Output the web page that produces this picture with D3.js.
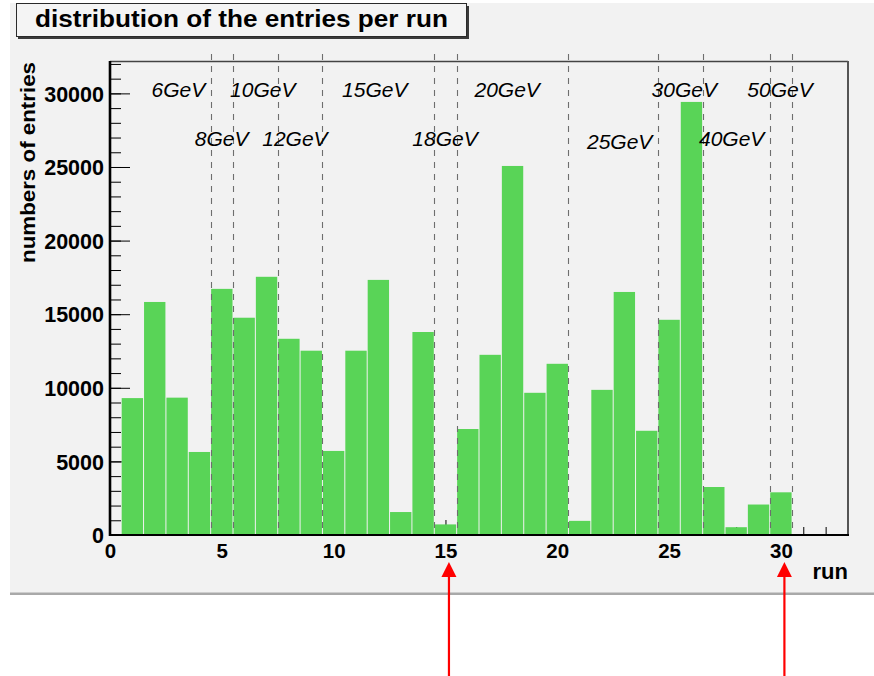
<!DOCTYPE html>
<html>
<head>
<meta charset="utf-8">
<script src="https://cdn.jsdelivr.net/npm/d3@7"></script>
<style>
  html, body { margin: 0; padding: 0; background: #ffffff; }
  svg { display: block; }
  text { font-family: "Liberation Sans", Arial, Helvetica, sans-serif; }
</style>
</head>
<body>
<svg id="chart" width="874" height="676"></svg>
<script>
// Entries recorded in each run
const runs = [1, 2, 3, 4, 5, 6, 7, 8, 9, 10, 11, 12, 13, 14, 15,
              16, 17, 18, 19, 20, 21, 22, 23, 24, 25, 26, 27, 28, 29, 30];
const entries = [9300, 15830, 9330, 5640, 16720, 14760, 17540, 13330, 12520, 5710,
                 12520, 17330, 1560, 13790, 720, 7200, 12240, 25070, 9660, 11630,
                 960, 9860, 16510, 7080, 14620, 29420, 3260, 530, 2070, 2900];

// Beam-energy boundaries (between runs) and the energy labels
const energyEdges = [4.5, 5.5, 7.5, 9.5, 14.5, 15.5, 20.5, 24.5, 26.5, 29.5, 30.5];
const energyNames = ["6GeV", "10GeV", "15GeV", "20GeV", "30GeV", "50GeV",
                     "8GeV", "12GeV", "18GeV", "25GeV", "40GeV"];
const energyRun   = [3.06, 6.83, 11.84, 17.76, 25.68, 29.96,
                     4.99, 8.27, 14.98, 22.79, 27.80];
const energyLevel = [29740, 29740, 29740, 29740, 29740, 29740,
                     26430, 26430, 26430, 26200, 26430];

// Runs marked with arrows
const markedRuns = [15, 30];

// Axis ticks
const yMajorTicks = [0, 5000, 10000, 15000, 20000, 25000, 30000];
const xMajorTicks = [0, 5, 10, 15, 20, 25, 30];

const svg = d3.select("#chart");
const W = 874, H = 676;
const frame = { left: 110, right: 848, top: 61, bottom: 535 };

const x = d3.scaleLinear().domain([0, 33]).range([frame.left, frame.right]);
const y = d3.scaleLinear().domain([0, 32200]).range([frame.bottom, frame.top]);

// Canvas panel
svg.append("rect").attr("x", 10).attr("y", 3).attr("width", W - 10).attr("height", 590)
  .attr("fill", "#f2f2f2");
svg.append("rect").attr("x", 10).attr("y", 592.5).attr("width", W - 10).attr("height", 2.5)
  .attr("fill", "#a9a9a9");

// Title box with shadow
svg.append("rect").attr("x", 18).attr("y", 6).attr("width", 451).attr("height", 33)
  .attr("fill", "#3a3a3a");
svg.append("rect").attr("x", 16.5).attr("y", 3.5).attr("width", 450).attr("height", 33)
  .attr("fill", "#f4f4f4").attr("stroke", "#2a2a2a").attr("stroke-width", 1);
svg.append("text")
  .attr("x", 241.5).attr("y", 27)
  .attr("text-anchor", "middle")
  .attr("font-size", 23).attr("font-weight", "bold").attr("fill", "#000")
  .attr("textLength", 413).attr("lengthAdjust", "spacingAndGlyphs")
  .text("distribution of the entries per run");

// Minor ticks (drawn beneath the bars)
svg.append("g")
  .attr("transform", `translate(${frame.left},0)`)
  .call(d3.axisLeft(y).tickValues(d3.range(0, 33000, 1000)).tickSize(-11).tickFormat(""))
  .call(g => g.select(".domain").remove())
  .call(g => g.selectAll("line").attr("stroke", "#000"));
svg.append("g")
  .attr("transform", `translate(0,${frame.bottom})`)
  .call(d3.axisBottom(x).tickValues(d3.range(0, 34, 1)).tickSize(-8).tickFormat(""))
  .call(g => g.select(".domain").remove())
  .call(g => g.selectAll("line").attr("stroke", "#000"));

// Major ticks and labels
svg.append("g")
  .attr("transform", `translate(${frame.left},0)`)
  .call(d3.axisLeft(y).tickValues(yMajorTicks).tickSize(-20).tickPadding(6).tickFormat(d3.format("d")))
  .call(g => g.select(".domain").remove())
  .call(g => g.selectAll("line").attr("stroke", "#000"))
  .call(g => g.selectAll("text")
    .attr("font-family", "'Liberation Sans', Arial, sans-serif")
    .attr("font-size", 21.5).attr("font-weight", "bold").attr("fill", "#000")
    .attr("dy", "0.36em"));
svg.append("g")
  .attr("transform", `translate(0,${frame.bottom})`)
  .call(d3.axisBottom(x).tickValues(xMajorTicks).tickSize(-15).tickPadding(8).tickFormat(d3.format("d")))
  .call(g => g.select(".domain").remove())
  .call(g => g.selectAll("line").attr("stroke", "#000"))
  .call(g => g.selectAll("text")
    .attr("font-family", "'Liberation Sans', Arial, sans-serif")
    .attr("font-size", 20.5).attr("font-weight", "bold").attr("fill", "#000"));

// Histogram bars, one per run
const binW = x(1) - x(0);
svg.append("g").selectAll("rect")
  .data(runs)
  .join("rect")
  .attr("x", (d) => x(d - 0.5) + 0.5)
  .attr("width", binW - 1)
  .attr("y", (d, i) => y(entries[i]))
  .attr("height", (d, i) => y(0) - y(entries[i]))
  .attr("fill", "#59d457");

// Energy boundaries
svg.append("g").selectAll("line")
  .data(energyEdges)
  .join("line")
  .attr("x1", (d) => Math.round(x(d)) + 0.5).attr("x2", (d) => Math.round(x(d)) + 0.5)
  .attr("y1", 54).attr("y2", frame.bottom)
  .attr("stroke", "#6e6e6e").attr("stroke-width", 1.1)
  .attr("stroke-dasharray", "6,6");

// Energy labels
svg.append("g").selectAll("text")
  .data(energyNames)
  .join("text")
  .attr("x", (d, i) => x(energyRun[i]))
  .attr("y", (d, i) => y(energyLevel[i]))
  .attr("text-anchor", "middle")
  .attr("font-size", 21).attr("font-style", "italic").attr("fill", "#000")
  .text((d) => d);

// Frame
svg.append("line").attr("x1", frame.left).attr("x2", frame.right)
  .attr("y1", frame.top + 0.5).attr("y2", frame.top + 0.5)
  .attr("stroke", "#444").attr("stroke-width", 1.5);
svg.append("line").attr("x1", frame.right).attr("x2", frame.right)
  .attr("y1", frame.top).attr("y2", frame.bottom)
  .attr("stroke", "#555").attr("stroke-width", 2);
svg.append("line").attr("x1", frame.left).attr("x2", frame.right + 1)
  .attr("y1", frame.bottom).attr("y2", frame.bottom)
  .attr("stroke", "#000").attr("stroke-width", 2.2);
svg.append("line").attr("x1", frame.left).attr("x2", frame.left)
  .attr("y1", frame.top).attr("y2", frame.bottom + 1)
  .attr("stroke", "#000").attr("stroke-width", 2.6);

// Axis titles
svg.append("text")
  .attr("x", frame.right).attr("y", 579)
  .attr("text-anchor", "end")
  .attr("font-size", 22).attr("font-weight", "bold").attr("fill", "#000")
  .text("run");
svg.append("text")
  .attr("transform", "translate(35,162.5) rotate(-90)")
  .attr("text-anchor", "middle")
  .attr("font-size", 20).attr("font-weight", "bold").attr("fill", "#000")
  .attr("textLength", 201).attr("lengthAdjust", "spacingAndGlyphs")
  .text("numbers of entries");

// Arrows marking selected runs
const arrows = svg.append("g").selectAll("g")
  .data(markedRuns)
  .join("g")
  .attr("transform", (d) => `translate(${x(d) + 3.5},0)`);
arrows.append("line")
  .attr("x1", 0).attr("x2", 0).attr("y1", H).attr("y2", 575)
  .attr("stroke", "#ff0000").attr("stroke-width", 2.2);
arrows.append("path")
  .attr("d", "M0,562 L7.5,577 L-7.5,577 Z")
  .attr("fill", "#ff0000");
</script>
</body>
</html>
